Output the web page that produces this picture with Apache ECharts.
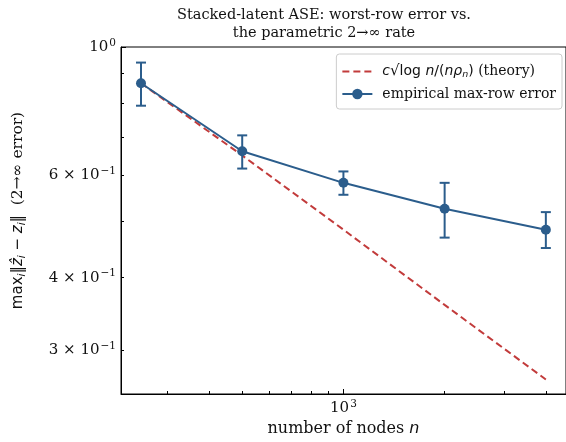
<!DOCTYPE html>
<html>
<head>
<meta charset="utf-8">
<title>Stacked-latent ASE</title>
<script src="https://cdn.jsdelivr.net/npm/echarts@6/dist/echarts.min.js"></script>
<style>
  html, body { margin: 0; padding: 0; background: #fff; }
  #chart { width: 566px; height: 442px; }
</style>
</head>
<body>
<div id="chart"></div>
<script>
// 数据
var nodeCounts = [250, 500, 1000, 2000, 4000];
var empiricalErr = [0.866, 0.661, 0.583, 0.526, 0.484];
var errLow = [0.792, 0.617, 0.556, 0.469, 0.450];
var errHigh = [0.940, 0.704, 0.610, 0.583, 0.519];
var theoryErr = [0.866, 0.650, 0.484, 0.359, 0.267];

// 刻度
var xMinorTicks = [300, 400, 500, 600, 700, 800, 900, 2000, 3000, 4000];
var xMajorTicks = [1000];
var yMinorTicks = [0.3, 0.4, 0.5, 0.6, 0.7, 0.8, 0.9];
var yMinorLabels = [0.3, 0.4, 0.6];
var yMajorTicks = [1];
var yLabelText = {
    '0.3': '{b|3 × 10}{sup|−1}',
    '0.4': '{b|4 × 10}{sup|−1}',
    '0.6': '{b|6 × 10}{sup|−1}',
    '1': '{b|10}{sup|0}'
};

(function () {
    var BLUE = '#2b5d8c';
    var RED = '#c23b3b';
    var SERIF = '"DejaVu Serif", serif';
    var SANS = '"DejaVu Sans", sans-serif';

    function zip(xs, ys) {
        var out = [];
        for (var i = 0; i < xs.length; i++) out.push([xs[i], ys[i]]);
        return out;
    }
    var errData = [];
    for (var i = 0; i < nodeCounts.length; i++) {
        errData.push([nodeCounts[i], errLow[i], errHigh[i]]);
    }

    function yFmt(v) {
        var k = String(Math.round(v * 10) / 10);
        return yLabelText[k] || '';
    }

    // 刻度标签上标样式
    var tickRich = {
        b: { fontFamily: SERIF, fontSize: 15, color: '#111', lineHeight: 19 },
        sup: { fontFamily: SERIF, fontSize: 10.5, color: '#111', verticalAlign: 'top', padding: [0, 0, 0, 1] }
    };

    var baseX = { type: 'log', logBase: 10, min: 218, max: 4592, gridIndex: 0, position: 'bottom', splitLine: { show: false } };
    var baseY = { type: 'log', logBase: 10, min: 0.252, max: 1, gridIndex: 0, position: 'left', splitLine: { show: false } };

    var theoryLabel = '{it|c}{rt|√}{sn|log }{it|n}{sn|/(}{it|nρ}{sub|n}{sn|)} {se|(theory)}';

    var dom = document.getElementById('chart');
    var myChart = echarts.init(dom, null, { renderer: 'canvas' });
    var option = {
        animation: false,
        backgroundColor: '#fff',
        title: {
            text: 'Stacked-latent ASE: worst-row error vs.\nthe parametric 2→∞ rate',
            left: 319, top: 1, textAlign: 'center',
            textStyle: { fontFamily: SERIF, fontSize: 14.5, fontWeight: 'normal', color: '#111', lineHeight: 18 }
        },
        grid: { left: 121, top: 47, width: 448, height: 348, show: true, borderColor: '#000', borderWidth: 1, backgroundColor: 'transparent' },
        legend: {
            orient: 'vertical', right: 4, top: 54,
            backgroundColor: 'rgba(255,255,255,0.85)',
            borderColor: '#cccccc', borderWidth: 1, borderRadius: 3,
            padding: [10, 6, 8, 5], itemGap: 7, itemWidth: 30, itemHeight: 13,
            data: [
                { name: 'theory', itemStyle: { opacity: 0 } },
                { name: 'empirical max-row error' }
            ],
            formatter: function (name) {
                if (name === 'theory') return theoryLabel;
                return name;
            },
            textStyle: {
                fontFamily: SERIF, fontSize: 14, color: '#111', padding: [0, 0, 0, 5],
                rich: {
                    it: { fontFamily: SANS, fontStyle: 'italic', fontSize: 14, color: '#111' },
                    sn: { fontFamily: SANS, fontSize: 14, color: '#111' },
                    rt: { fontFamily: SANS, fontSize: 15, color: '#111' },
                    sub: { fontFamily: SANS, fontStyle: 'italic', fontSize: 9.5, color: '#111', verticalAlign: 'bottom', padding: [7, 0, 0, 0] },
                    se: { fontFamily: SERIF, fontSize: 14, color: '#111' }
                }
            }
        },
        xAxis: [
            Object.assign({}, baseX, {
                name: '{t|number of nodes }{i|n}',
                nameLocation: 'middle', nameGap: 27,
                nameTextStyle: { rich: {
                    t: { fontFamily: SERIF, fontSize: 16, color: '#111' },
                    i: { fontFamily: SANS, fontStyle: 'italic', fontSize: 16, color: '#111' }
                } },
                axisLine: { show: true, lineStyle: { color: '#000', width: 1 } },
                axisTick: { show: true, inside: true, length: 3, customValues: xMinorTicks, lineStyle: { color: '#000' } },
                axisLabel: { show: false }
            }),
            Object.assign({}, baseX, {
                axisLine: { show: false },
                axisTick: { show: true, inside: true, length: 5, customValues: xMajorTicks, lineStyle: { color: '#000' } },
                axisLabel: { show: true, customValues: xMajorTicks, margin: 5,
                    formatter: function () { return '{b|10}{sup|3}'; }, rich: tickRich }
            })
        ],
        yAxis: [
            Object.assign({}, baseY, {
                name: '{m|max}{s|i}{n|‖ẑ}{q|i}{n| − z}{q|i}{n|‖  }{t|(2→∞ error)}',
                nameLocation: 'middle', nameGap: 93,
                nameTextStyle: { padding: [0, 0, 0, 20], rich: {
                    m: { fontFamily: SANS, fontSize: 15, color: '#111' },
                    n: { fontFamily: SANS, fontStyle: 'italic', fontSize: 15, color: '#111' },
                    s: { fontFamily: SANS, fontStyle: 'italic', fontSize: 10.5, color: '#111', verticalAlign: 'bottom', padding: [9, 0, 0, 0] },
                    q: { fontFamily: SANS, fontStyle: 'italic', fontSize: 10.5, color: '#111', verticalAlign: 'bottom', padding: [5, 0, 0, 0] },
                    t: { fontFamily: SERIF, fontSize: 15.5, color: '#111' }
                } },
                axisLine: { show: true, lineStyle: { color: '#000', width: 1 } },
                axisTick: { show: true, inside: true, length: 3, customValues: yMinorTicks, lineStyle: { color: '#000' } },
                axisLabel: { show: true, customValues: yMinorLabels, margin: 5, formatter: yFmt, rich: tickRich }
            }),
            Object.assign({}, baseY, {
                axisLine: { show: false },
                axisTick: { show: true, inside: true, length: 5, customValues: yMajorTicks, lineStyle: { color: '#000' } },
                axisLabel: { show: true, customValues: yMajorTicks, margin: 5, formatter: yFmt, rich: tickRich }
            })
        ],
        series: [
            {
                name: 'theory', type: 'line', xAxisIndex: 0, yAxisIndex: 0,
                data: zip(nodeCounts, theoryErr),
                showSymbol: false, symbol: 'none',
                lineStyle: { color: RED, width: 2, type: [7, 4] },
                itemStyle: { color: RED },
                z: 3
            },
            {
                name: 'empirical max-row error', type: 'line', xAxisIndex: 0, yAxisIndex: 0,
                data: zip(nodeCounts, empiricalErr),
                symbol: 'circle', symbolSize: 10,
                lineStyle: { color: BLUE, width: 2 },
                itemStyle: { color: BLUE },
                z: 4
            },
            {
                name: 'errbar', type: 'custom', xAxisIndex: 0, yAxisIndex: 0,
                data: errData,
                encode: { x: 0, y: [1, 2] },
                renderItem: function (params, api) {
                    var lo = api.coord([api.value(0), api.value(1)]);
                    var hi = api.coord([api.value(0), api.value(2)]);
                    var cap = 5;
                    var st = { stroke: BLUE, lineWidth: 2 };
                    return {
                        type: 'group',
                        children: [
                            { type: 'line', shape: { x1: lo[0], y1: lo[1], x2: hi[0], y2: hi[1] }, style: st },
                            { type: 'line', shape: { x1: lo[0] - cap, y1: lo[1], x2: lo[0] + cap, y2: lo[1] }, style: st },
                            { type: 'line', shape: { x1: hi[0] - cap, y1: hi[1], x2: hi[0] + cap, y2: hi[1] }, style: st }
                        ]
                    };
                },
                z: 4
            }
        ]
    };
    myChart.setOption(option);
    window.addEventListener('resize', myChart.resize);
})();
</script>
</body>
</html>
